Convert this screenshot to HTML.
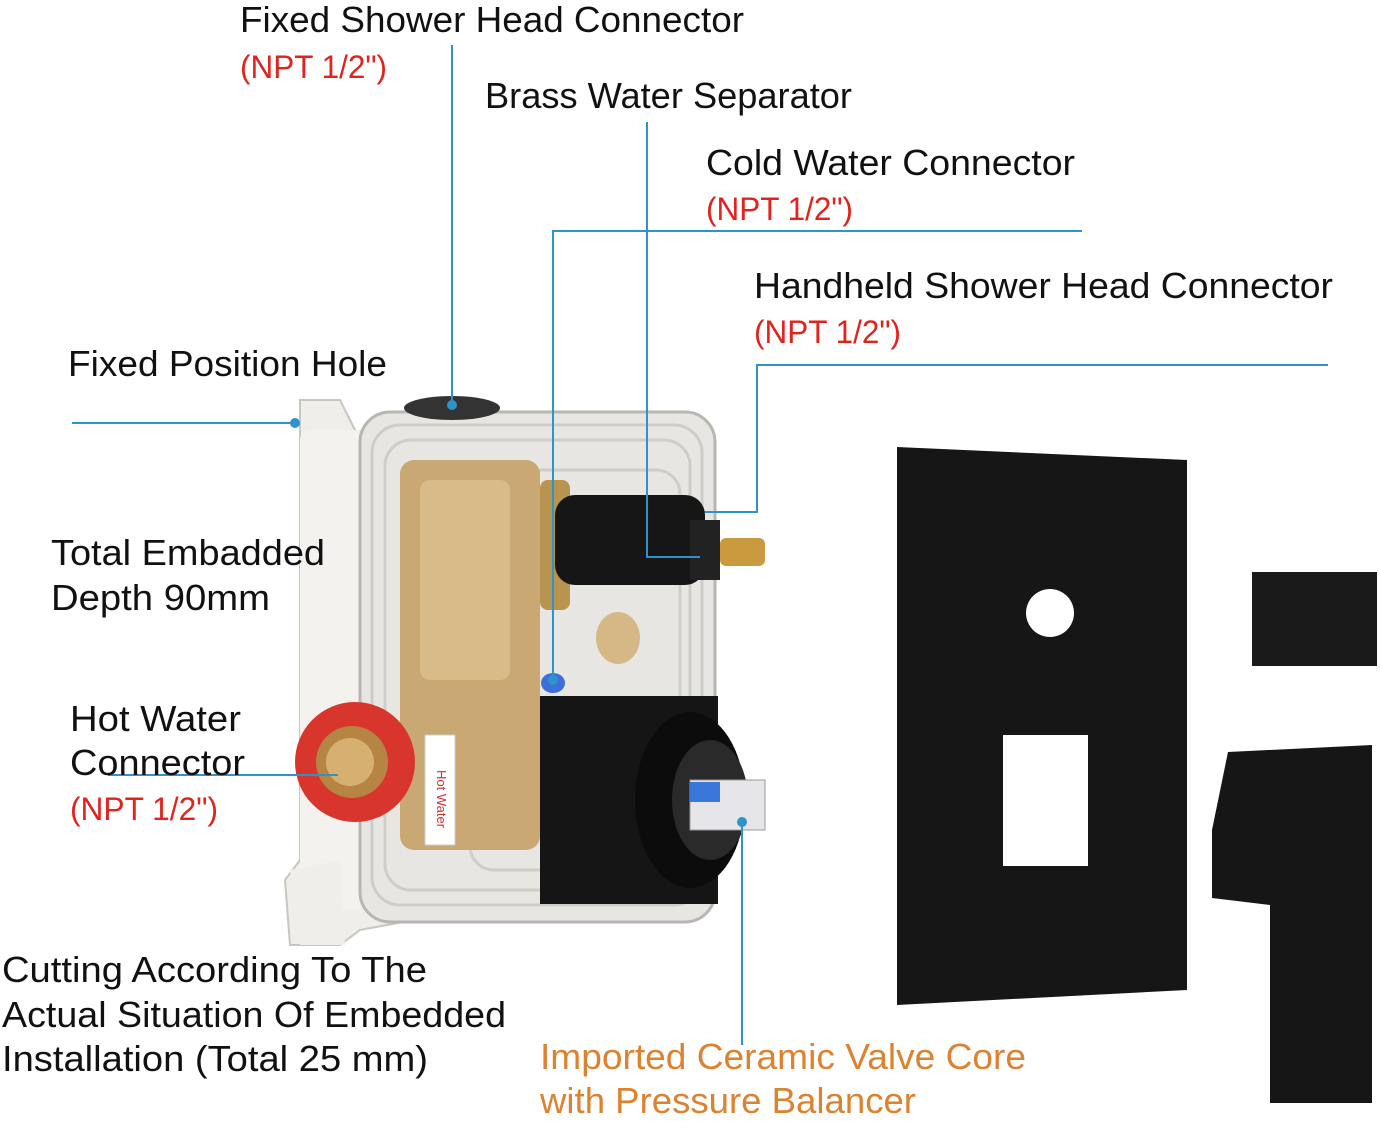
<!DOCTYPE html>
<html><head><meta charset="utf-8"><style>html,body{margin:0;padding:0;background:#fff}svg{display:block}</style></head>
<body>
<svg width="1380" height="1130" viewBox="0 0 1380 1130" xmlns="http://www.w3.org/2000/svg">
<rect width="1380" height="1130" fill="#fff"/>
<!-- valve backplate (white) -->
<path d="M300 400 L340 400 L360 440 L470 420 L520 440 L520 900 L360 930 L340 945 L290 945 L285 880 L300 860 Z" fill="#efeeea" stroke="#c9c6c0" stroke-width="2"/>
<rect x="300" y="430" width="90" height="480" rx="10" fill="#f4f2ee"/>
<!-- clear housing -->
<rect x="360" y="412" width="355" height="510" rx="30" fill="#e8e6e2" stroke="#b8b6b2" stroke-width="3"/>
<g stroke="#cfcdc8" stroke-width="3" fill="none">
<rect x="372" y="425" width="330" height="480" rx="28"/>
<rect x="385" y="440" width="305" height="450" rx="26"/>
<rect x="470" y="470" width="210" height="400" rx="24"/>
</g>
<!-- brass body -->
<rect x="400" y="460" width="140" height="390" rx="14" fill="#c9a874"/>
<rect x="420" y="480" width="90" height="200" rx="10" fill="#d8bb88"/>
<!-- top opening -->
<ellipse cx="452" cy="408" rx="48" ry="12" fill="#333"/>
<!-- hot water red ring -->
<circle cx="355" cy="762" r="60" fill="#d8362c"/>
<circle cx="352" cy="762" r="36" fill="#b68544"/>
<circle cx="350" cy="762" r="24" fill="#d6b070"/>
<!-- hot water label -->
<rect x="425" y="735" width="30" height="110" fill="#fff" stroke="#ccc"/>
<text x="0" y="0" transform="translate(437,770) rotate(90)" font-family="Liberation Sans, sans-serif" font-size="13" fill="#c33">Hot Water</text>
<!-- upper black stem -->
<rect x="540" y="480" width="30" height="130" rx="8" fill="#b8944f"/>
<rect x="555" y="495" width="150" height="90" rx="20" fill="#161616"/>
<rect x="690" y="520" width="30" height="60" fill="#222"/>
<rect x="720" y="538" width="45" height="28" rx="6" fill="#c99a3e"/>
<!-- small brass fitting -->
<ellipse cx="618" cy="638" rx="22" ry="26" fill="#d6b887"/>
<!-- blue -->
<ellipse cx="553" cy="683" rx="12" ry="10" fill="#3c6fd8"/>
<!-- black square cartridge -->
<rect x="540" y="696" width="178" height="208" fill="#151515"/>
<ellipse cx="690" cy="800" rx="55" ry="88" fill="#0c0c0c"/>
<ellipse cx="710" cy="800" rx="38" ry="60" fill="#2a2a2a"/>
<rect x="690" y="780" width="75" height="50" fill="#e5e5ea" stroke="#999"/>
<rect x="690" y="782" width="30" height="20" fill="#3a78d8"/>
<!-- bottom ears -->
<path d="M290 870 L340 860 L345 945 L300 945 Z" fill="#efeeea"/>
<!-- trim plate -->
<polygon points="897,447 1187,460 1187,990 897,1005" fill="#161616"/>
<circle cx="1050" cy="613" r="24" fill="#fff"/>
<rect x="1003" y="735" width="85" height="131" fill="#fff"/>
<!-- small block -->
<rect x="1252" y="572" width="125" height="94" fill="#1a1a1a"/>
<!-- handle -->
<polygon points="1228,752 1372,745 1372,1103 1270,1103 1270,905 1212,898 1212,830" fill="#161616"/>
<!-- leader lines -->
<g stroke="#2e93c8" stroke-width="2" fill="none">
<line x1="452" y1="45" x2="452" y2="405"/>
<polyline points="647,122 647,557 700,557"/>
<polyline points="1082,231 553,231 553,680"/>
<polyline points="1328,365 757,365 757,512 705,512"/>
<line x1="72" y1="423" x2="295" y2="423"/>
<line x1="108" y1="775" x2="338" y2="775"/>
<line x1="742" y1="822" x2="742" y2="1045"/>
</g>
<g fill="#2e93c8">
<circle cx="452" cy="405" r="5"/><circle cx="295" cy="423" r="5"/><circle cx="553" cy="680" r="5"/><circle cx="742" cy="822" r="5"/>
</g>
<!-- text -->
<g font-family="Liberation Sans, sans-serif" font-size="36" fill="#111" lengthAdjust="spacingAndGlyphs">
<text x="240" y="32" textLength="504" lengthAdjust="spacingAndGlyphs">Fixed Shower Head Connector</text>
<text x="485" y="108" textLength="367" lengthAdjust="spacingAndGlyphs">Brass Water Separator</text>
<text x="706" y="175" textLength="369" lengthAdjust="spacingAndGlyphs">Cold Water Connector</text>
<text x="754" y="298" textLength="579" lengthAdjust="spacingAndGlyphs">Handheld Shower Head Connector</text>
<text x="68" y="376" textLength="319" lengthAdjust="spacingAndGlyphs">Fixed Position Hole</text>
<text x="51" y="565" textLength="274" lengthAdjust="spacingAndGlyphs">Total Embadded</text>
<text x="51" y="610" textLength="219" lengthAdjust="spacingAndGlyphs">Depth 90mm</text>
<text x="70" y="731" textLength="171" lengthAdjust="spacingAndGlyphs">Hot Water</text>
<text x="70" y="775" textLength="175" lengthAdjust="spacingAndGlyphs">Connector</text>
<text x="2" y="982" textLength="425" lengthAdjust="spacingAndGlyphs">Cutting According To The</text>
<text x="2" y="1027" textLength="504" lengthAdjust="spacingAndGlyphs">Actual Situation Of Embedded</text>
<text x="2" y="1071" textLength="426" lengthAdjust="spacingAndGlyphs">Installation (Total 25 mm)</text>
</g>
<g font-family="Liberation Sans, sans-serif" font-size="32" fill="#e0231c">
<text x="240" y="78" textLength="147" lengthAdjust="spacingAndGlyphs">(NPT 1/2")</text>
<text x="706" y="220" textLength="147" lengthAdjust="spacingAndGlyphs">(NPT 1/2")</text>
<text x="754" y="343" textLength="147" lengthAdjust="spacingAndGlyphs">(NPT 1/2")</text>
<text x="70" y="820" textLength="148" lengthAdjust="spacingAndGlyphs">(NPT 1/2")</text>
</g>
<g font-family="Liberation Sans, sans-serif" font-size="36" fill="#dc8230">
<text x="540" y="1069" textLength="486" lengthAdjust="spacingAndGlyphs">Imported Ceramic Valve Core</text>
<text x="540" y="1113" textLength="376" lengthAdjust="spacingAndGlyphs">with Pressure Balancer</text>
</g>
</svg>
</body></html>
